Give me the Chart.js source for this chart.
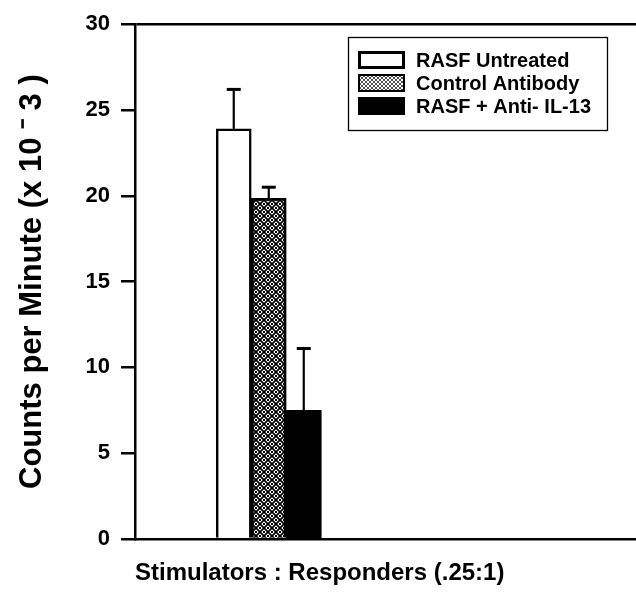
<!DOCTYPE html>
<html><head><meta charset="utf-8">
<script src="https://cdn.jsdelivr.net/npm/chart.js@4.4.1/dist/chart.umd.min.js"></script>
<style>
html,body{margin:0;padding:0;background:#fff;overflow:hidden;}
#wrap{width:636px;height:597px;overflow:hidden;position:relative;}
#inner{width:670px;height:597px;position:relative;}
canvas{display:block;}
</style></head><body>
<div id="wrap"><div id="inner"><canvas id="c"></canvas></div></div>
<script>
const categories = ['.25:1', ''];
const seriesLabels = ['RASF Untreated', 'Control Antibody', 'RASF + Anti- IL-13'];
const untreatedValues = [23.9, null];
const controlValues = [19.85, null];
const antiIL13Values = [7.5, null];
const untreatedErrors = [2.3, null];
const controlErrors = [0.65, null];
const antiIL13Errors = [3.6, null];
const yMin = 0, yMax = 30, yStep = 5;
const yTitle = 'Counts per Minute (x 10 \u207B 3 )';
const xTitle = 'Stimulators : Responders (.25:1)';

const FONT = "'Liberation Sans', Arial, Helvetica, sans-serif";

function makeHatch(period, lw, dot) {
  const c = document.createElement('canvas');
  c.width = c.height = period;
  const x = c.getContext('2d');
  x.fillStyle = '#fff'; x.fillRect(0, 0, period, period);
  x.strokeStyle = '#000'; x.lineWidth = lw;
  x.beginPath();
  x.moveTo(-1, -1); x.lineTo(period + 1, period + 1);
  x.moveTo(period + 1, -1); x.lineTo(-1, period + 1);
  x.stroke();
  if (dot) {
    const h = period / 2, d = dot;
    x.fillStyle = '#000';
    [[h, 0], [h, period], [0, h], [period, h]].forEach(([px, py]) => x.fillRect(px - d / 2, py - d / 2, d, d));
  }
  return x.createPattern(c, 'repeat');
}
const barHatch = makeHatch(8, 1.8, 2);
const legendHatch = makeHatch(4, 0.7, 0);

const errorBars = {
  id: 'errorBars',
  afterDatasetsDraw(chart) {
    const {ctx} = chart;
    const y = chart.scales.y;
    chart.data.datasets.forEach((ds, i) => {
      const meta = chart.getDatasetMeta(i);
      meta.data.forEach((bar, j) => {
        const v = ds.data[j], e = ds.errors[j];
        if (v == null || e == null) return;
        const top = y.getPixelForValue(v + e);
        ctx.save();
        ctx.strokeStyle = '#000';
        ctx.lineWidth = 2.2;
        ctx.beginPath(); ctx.moveTo(bar.x, bar.y); ctx.lineTo(bar.x, top); ctx.stroke();
        ctx.lineWidth = 3;
        ctx.beginPath(); ctx.moveTo(bar.x - 7, top); ctx.lineTo(bar.x + 7, top); ctx.stroke();
        ctx.restore();
      });
    });
  }
};

const boxLegend = {
  id: 'boxLegend',
  afterDraw(chart) {
    const {ctx} = chart;
    const L = 348, T = 37, W = 259, H = 93;
    ctx.save();
    ctx.strokeStyle = '#000'; ctx.lineWidth = 1.3;
    ctx.strokeRect(L + 0.5, T + 0.5, W, H);
    ctx.font = 'bold 20px ' + FONT;
    ctx.textBaseline = 'alphabetic';
    ctx.textAlign = 'left';
    chart.data.datasets.forEach((ds, i) => {
      const sy = 51 + i * 23;
      const sx = 358, sw = 47, sh = 18;
      ctx.fillStyle = ds.legendFill;
      ctx.fillRect(sx, sy, sw, sh);
      if (ds.legendBorder > 0) {
        ctx.lineWidth = ds.legendBorder;
        ctx.strokeStyle = '#000';
        ctx.strokeRect(sx + ds.legendBorder / 2, sy + ds.legendBorder / 2, sw - ds.legendBorder, sh - ds.legendBorder);
      }
      ctx.fillStyle = '#000';
      ctx.fillText(ds.label, 416, 67 + i * 23);
    });
    ctx.restore();
  }
};

new Chart(document.getElementById('c'), {
  type: 'bar',
  data: {
    labels: categories,
    datasets: [
      {label: seriesLabels[0], data: untreatedValues, errors: untreatedErrors,
       backgroundColor: '#fff', borderColor: '#000', borderWidth: 2.5,
       legendFill: '#fff', legendBorder: 3},
      {label: seriesLabels[1], data: controlValues, errors: controlErrors,
       backgroundColor: barHatch, borderColor: '#000', borderWidth: 2.8,
       legendFill: legendHatch, legendBorder: 2},
      {label: seriesLabels[2], data: antiIL13Values, errors: antiIL13Errors,
       backgroundColor: '#000', borderColor: '#000', borderWidth: 0,
       legendFill: '#000', legendBorder: 0}
    ]
  },
  options: {
    responsive: true,
    maintainAspectRatio: false,
    animation: false,
    devicePixelRatio: 1,
    layout: {padding: {top: 20, left: 0, right: 0, bottom: 0}},
    datasets: {bar: {barThickness: 35}},
    plugins: {legend: {display: false}, tooltip: {enabled: false}, title: {display: false}},
    scales: {
      x: {
        type: 'category',
        ticks: {display: false},
        grid: {display: false, drawTicks: false},
        border: {display: true, color: '#000', width: 2.5},
        title: {display: true, text: xTitle, align: 'start', color: '#000',
                font: {family: FONT, size: 24, weight: 'bold'},
                padding: {top: 20, bottom: 9}},
        afterFit(scale) { scale.height = 58; }
      },
      y: {
        min: yMin, max: yMax,
        ticks: {stepSize: yStep, color: '#000', padding: 11,
                font: {family: FONT, size: 22, weight: 'bold'}},
        grid: {
          drawOnChartArea: true, drawTicks: true, tickLength: 14,
          color: (c) => (c.tick && c.tick.value === yMax) ? '#000' : 'rgba(0,0,0,0)',
          lineWidth: 2.5, tickColor: '#000', tickWidth: 2.5
        },
        border: {display: true, color: '#000', width: 2.5},
        title: {display: true, text: yTitle, color: '#000',
                font: {family: FONT, size: 31, weight: 'bold'},
                padding: {top: 14, bottom: 0}},
        afterFit(scale) { scale.width = 135; }
      }
    }
  },
  plugins: [errorBars, boxLegend]
});
</script>
</body></html>
